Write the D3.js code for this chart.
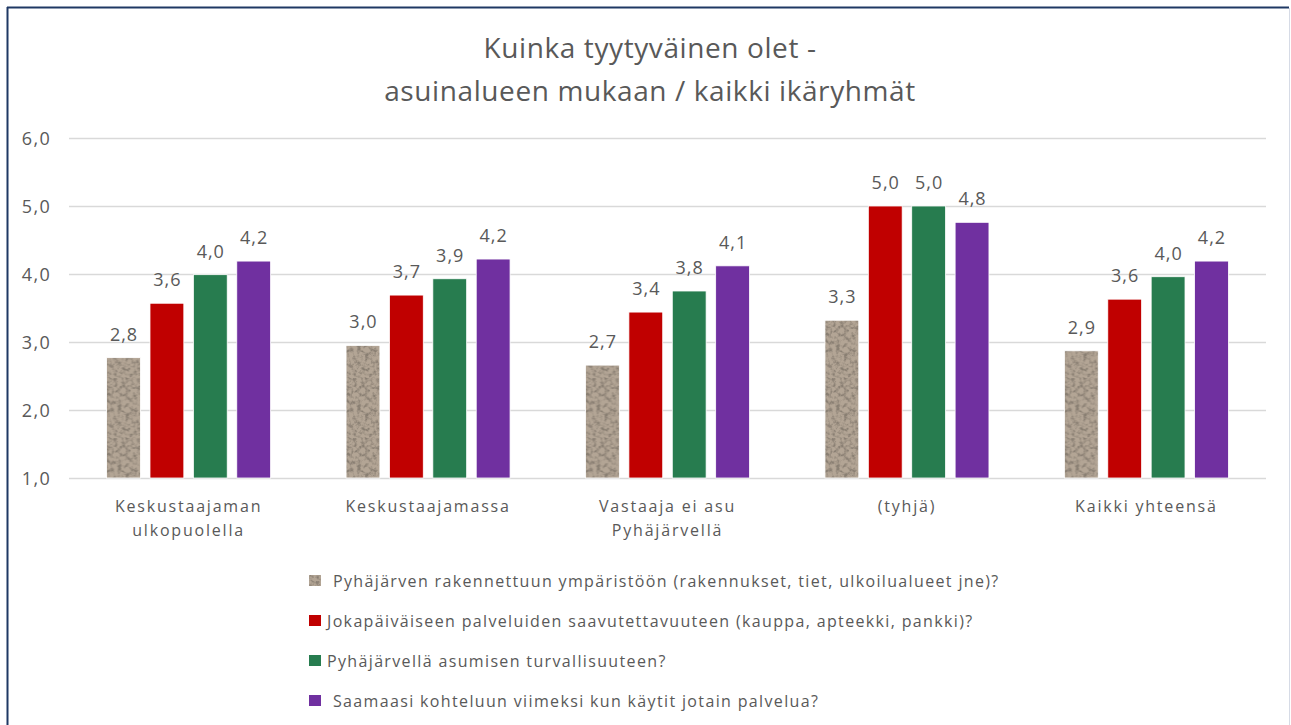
<!DOCTYPE html>
<html>
<head>
<meta charset="utf-8">
<script src="https://cdn.jsdelivr.net/npm/d3@7"></script>
<style>
  body { margin: 0; background: #fff; }
  svg text { font-family: "Open Sans", sans-serif; fill: #595959; }
</style>
</head>
<body>
<svg id="chart" width="1291" height="725"></svg>
<script>
'use strict';
(function() {
    // chart data
    var categories = [
        ['Keskustaajaman', 'ulkopuolella'],
        ['Keskustaajamassa'],
        ['Vastaaja ei asu', 'Pyhäjärvellä'],
        ['(tyhjä)'],
        ['Kaikki yhteensä']
    ];
    var seriesNames = [
        'Pyhäjärven rakennettuun ympäristöön (rakennukset, tiet, ulkoilualueet jne)?',
        'Jokapäiväiseen palveluiden saavutettavuuteen (kauppa, apteekki, pankki)?',
        'Pyhäjärvellä asumisen turvallisuuteen?',
        'Saamaasi kohteluun viimeksi kun käytit jotain palvelua?'
    ];
    var rakennettu   = [2.77, 2.95, 2.66, 3.32, 2.87];
    var palvelut     = [3.57, 3.69, 3.44, 5.00, 3.63];
    var turvallisuus = [3.99, 3.93, 3.75, 5.00, 3.96];
    var kohtelu      = [4.19, 4.22, 4.12, 4.76, 4.19];
    var seriesValues = [rakennettu, palvelut, turvallisuus, kohtelu];
    var yTicks = [1, 2, 3, 4, 5, 6];
    var titleLines = ['Kuinka tyytyväinen olet -', 'asuinalueen mukaan / kaikki ikäryhmät'];

    var colors = ['url(#granite)', '#C00000', '#277C4F', '#7030A0'];
    var fmt = function(v) { return d3.format('.1f')(v).replace('.', ','); };

    var svg = d3.select('#chart');
    var margin = {left: 69, right: 25, top: 138, bottom: 247};
    var width = 1291 - margin.left - margin.right,
        height = 725 - margin.top - margin.bottom;

    // granite texture for the first series
    var defs = svg.append('defs');
    var filt = defs.append('filter').attr('id', 'graniteNoise')
        .attr('x', 0).attr('y', 0).attr('width', 1).attr('height', 1);
    filt.append('feTurbulence').attr('type', 'fractalNoise')
        .attr('baseFrequency', 0.26).attr('numOctaves', 3).attr('seed', 4).attr('result', 'noise');
    filt.append('feColorMatrix').attr('in', 'noise').attr('type', 'matrix')
        .attr('values', '0 0 0 0 0.25  0 0 0 0 0.21  0 0 0 0 0.17  -3.0 0 0 0 1.75')
        .attr('result', 'spots');
    filt.append('feComposite').attr('in', 'spots').attr('in2', 'SourceGraphic').attr('operator', 'atop');
    var pat = defs.append('pattern').attr('id', 'granite')
        .attr('patternUnits', 'userSpaceOnUse').attr('width', 60).attr('height', 60);
    pat.append('rect').attr('width', 60).attr('height', 60).attr('fill', '#b3a595');
    pat.append('rect').attr('width', 60).attr('height', 60).attr('fill', '#b3a595')
        .attr('filter', 'url(#graniteNoise)');

    // frame
    svg.append('line').attr('x1', 7.5).attr('x2', 7.5).attr('y1', 7).attr('y2', 725)
        .attr('stroke', '#1F3864').attr('stroke-width', 2);
    svg.append('line').attr('x1', 7).attr('x2', 1289).attr('y1', 7.5).attr('y2', 7.5)
        .attr('stroke', '#1F3864').attr('stroke-width', 2);
    svg.append('line').attr('x1', 1289.5).attr('x2', 1289.5).attr('y1', 8).attr('y2', 725)
        .attr('stroke', '#d6dbe6').attr('stroke-width', 1);

    // title
    svg.append('text')
        .attr('text-anchor', 'middle')
        .style('font-size', '28px')
        .style('letter-spacing', '0.6px')
        .selectAll('tspan').data(titleLines).enter().append('tspan')
        .attr('x', 650)
        .attr('y', function(d, i) { return 58 + i * 43; })
        .text(function(d) { return d; });

    var g = svg.append('g').attr('transform', 'translate(' + margin.left + ',' + margin.top + ')');

    var scaleY = d3.scaleLinear().domain([1, 6]).range([height, 0]);
    var scaleX0 = d3.scaleBand().domain(d3.range(categories.length)).range([0, width]).paddingInner(0.315).paddingOuter(0.157);
    var scaleX1 = d3.scaleBand().domain(d3.range(seriesValues.length)).range([0, scaleX0.bandwidth()]).paddingInner(0.22);

    // gridlines and y axis
    var yAxis = g.append('g')
        .call(d3.axisLeft(scaleY).tickValues(yTicks).tickSize(-width).tickFormat(fmt));
    yAxis.select('.domain').remove();
    yAxis.selectAll('.tick line').attr('stroke', '#d9d9d9').attr('stroke-width', 1.3);
    yAxis.selectAll('.tick text').attr('x', -18).attr('dy', '0.36em')
        .style('font-size', '18px').style('letter-spacing', '1.3px')
        .style('font-family', '"Open Sans", sans-serif').attr('fill', '#595959');

    // bars
    var groups = g.selectAll('.group').data(categories).enter().append('g')
        .attr('class', 'group')
        .attr('transform', function(d, i) { return 'translate(' + scaleX0(i) + ',0)'; });

    var cells = function(d, i) {
        return seriesValues.map(function(s, j) { return {s: j, v: s[i]}; });
    };

    groups.selectAll('rect').data(cells).enter().append('rect')
        .attr('x', function(d) { return scaleX1(d.s); })
        .attr('y', function(d) { return scaleY(d.v); })
        .attr('width', scaleX1.bandwidth())
        .attr('height', function(d) { return scaleY(1) - scaleY(d.v); })
        .attr('fill', function(d) { return colors[d.s]; })
        .attr('stroke', '#fff').attr('stroke-width', 0.8);

    groups.selectAll('.val').data(cells).enter().append('text')
        .attr('class', 'val')
        .attr('x', function(d) { return scaleX1(d.s) + scaleX1.bandwidth() / 2 + 0.5; })
        .attr('y', function(d) { return scaleY(d.v) - 17; })
        .attr('text-anchor', 'middle')
        .style('font-size', '18px')
        .style('letter-spacing', '1px')
        .text(function(d) { return fmt(d.v); });

    // category labels
    groups.append('text')
        .attr('text-anchor', 'middle')
        .style('font-size', '16px')
        .style('letter-spacing', '1.8px')
        .selectAll('tspan').data(function(d) { return d; }).enter().append('tspan')
        .attr('x', scaleX0.bandwidth() / 2)
        .attr('y', function(d, i) { return height + 34 + i * 24; })
        .text(function(d) { return d; });

    // legend
    var legend = svg.append('g').attr('transform', 'translate(309,0)');
    var items = legend.selectAll('.item').data(seriesNames).enter().append('g')
        .attr('transform', function(d, i) { return 'translate(0,' + (581 + i * 40) + ')'; });
    items.append('rect').attr('x', 0).attr('y', -6).attr('width', 12).attr('height', 11)
        .attr('fill', function(d, i) { return colors[i]; });
    items.append('text')
        .attr('x', function(d, i) { return (i === 0 || i === 3) ? 24 : 18; })
        .attr('y', 6)
        .style('font-size', '16px')
        .style('letter-spacing', '1.35px')
        .text(function(d) { return d; });
})();
</script>
</body>
</html>
